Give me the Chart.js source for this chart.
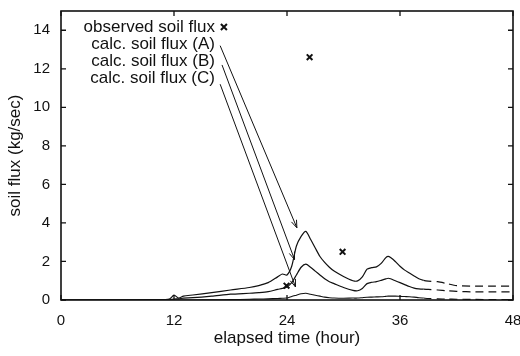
<!DOCTYPE html>
<html>
<head>
<meta charset="utf-8">
<script src="https://cdn.jsdelivr.net/npm/chart.js@4/dist/chart.umd.min.js"></script>
<style>
  html, body { margin: 0; padding: 0; background: #fff; }
  canvas { display: block; }
</style>
</head>
<body>
<canvas id="c" width="520" height="356"></canvas>
<script>
// ---- data ----
const hours = [0, 6, 10, 11.5, 12, 12.5, 13, 14, 16, 18, 20, 21, 22, 23, 23.5, 24, 24.5, 25, 25.5, 26, 26.5, 27, 27.5, 28, 28.5, 29, 30, 31, 31.5, 32, 32.5, 33, 33.5, 34, 34.5, 34.75, 35, 35.5, 36, 36.5, 37, 37.5, 38, 38.5, 39, 40, 41, 42, 44, 46, 48];
const fluxA = [0, 0, 0.02, 0.05, 0.25, 0.1, 0.2, 0.26, 0.38, 0.52, 0.65, 0.75, 0.9, 1.2, 1.35, 1.3, 1.75, 2.8, 3.3, 3.56, 3.15, 2.7, 2.26, 1.95, 1.7, 1.5, 1.22, 1.0, 0.99, 1.2, 1.6, 1.68, 1.72, 1.9, 2.2, 2.26, 2.2, 2.0, 1.75, 1.55, 1.4, 1.25, 1.1, 1.02, 0.98, 0.95, 0.85, 0.75, 0.72, 0.72, 0.72];
const fluxB = [0, 0, 0, 0.02, 0.05, 0.06, 0.1, 0.12, 0.2, 0.3, 0.35, 0.38, 0.43, 0.55, 0.6, 0.68, 0.9, 1.3, 1.7, 1.86, 1.7, 1.5, 1.3, 1.1, 0.95, 0.85, 0.65, 0.5, 0.48, 0.6, 0.85, 0.92, 0.95, 1.02, 1.1, 1.13, 1.1, 1.0, 0.9, 0.8, 0.7, 0.62, 0.58, 0.56, 0.55, 0.52, 0.48, 0.45, 0.42, 0.42, 0.42];
const fluxC = [0, 0, 0, 0, 0, 0, 0, 0, 0.01, 0.02, 0.04, 0.05, 0.06, 0.08, 0.09, 0.1, 0.18, 0.25, 0.32, 0.35, 0.3, 0.25, 0.2, 0.15, 0.12, 0.1, 0.09, 0.1, 0.1, 0.12, 0.14, 0.15, 0.16, 0.17, 0.19, 0.2, 0.2, 0.2, 0.19, 0.18, 0.17, 0.15, 0.12, 0.1, 0.08, 0.06, 0.05, 0.04, 0.03, 0.02, 0.02];
const obsHours = [23.95, 26.4, 29.9];
const obsFlux = [0.74, 12.6, 2.5];
const xTicks = [0, 12, 24, 36, 48];
const yTicks = [0, 2, 4, 6, 8, 10, 12, 14];
const labelTexts = ["observed soil flux", "calc. soil flux (A)", "calc. soil flux (B)", "calc. soil flux (C)"];
// label anchors (right edge) in data units
const labelX = [16.35, 16.35, 16.35, 16.35];
const labelY = [14.17, 13.28, 12.4, 11.5];
const keyMarkX = 17.3;   // the x-mark after "observed soil flux"
// arrows from labels to curves, in data units
const arrowStartX = [16.9, 17.1, 16.9];
const arrowStartY = [13.2, 12.2, 11.2];
const arrowEndX = [25.05, 24.8, 24.9];
const arrowEndY = [3.75, 2.1, 0.68];

const FONT = "'Liberation Sans', Arial, Helvetica, sans-serif";
const INK = '#111';

const toXY = (xs, ys) => xs.map((x, i) => ({ x: x, y: ys[i] }));
const tailDash = ctx => (ctx.p0.parsed.x >= 38.5 ? [8, 5] : undefined);

const frameTicks = {
  id: 'frameTicks',
  afterDatasetsDraw(chart) {
    const { ctx, chartArea: a, scales } = chart;
    ctx.save();
    ctx.strokeStyle = INK;
    ctx.lineWidth = 1.6;
    ctx.strokeRect(a.left, a.top, a.right - a.left, a.bottom - a.top);
    ctx.lineWidth = 1.3;
    const L = 5;
    ctx.beginPath();
    xTicks.forEach(v => {
      const px = scales.x.getPixelForValue(v);
      ctx.moveTo(px, a.bottom); ctx.lineTo(px, a.bottom - L);
      ctx.moveTo(px, a.top); ctx.lineTo(px, a.top + L);
    });
    yTicks.forEach(v => {
      const py = scales.y.getPixelForValue(v);
      ctx.moveTo(a.left, py); ctx.lineTo(a.left + L, py);
      ctx.moveTo(a.right, py); ctx.lineTo(a.right - L, py);
    });
    ctx.stroke();

    // labels
    ctx.fillStyle = INK;
    ctx.font = '17px ' + FONT;
    ctx.textAlign = 'right';
    ctx.textBaseline = 'middle';
    labelTexts.forEach((t, i) => {
      ctx.fillText(t, scales.x.getPixelForValue(labelX[i]), scales.y.getPixelForValue(labelY[i]));
    });
    // key mark (x) for observed
    const kx = scales.x.getPixelForValue(keyMarkX), ky = scales.y.getPixelForValue(labelY[0]);
    ctx.lineWidth = 2;
    ctx.beginPath();
    ctx.moveTo(kx - 3, ky - 3); ctx.lineTo(kx + 3, ky + 3);
    ctx.moveTo(kx + 3, ky - 3); ctx.lineTo(kx - 3, ky + 3);
    ctx.stroke();

    // arrows
    ctx.lineWidth = 1;
    for (let i = 0; i < arrowStartX.length; i++) {
      const x0 = scales.x.getPixelForValue(arrowStartX[i]), y0 = scales.y.getPixelForValue(arrowStartY[i]);
      const x1 = scales.x.getPixelForValue(arrowEndX[i]), y1 = scales.y.getPixelForValue(arrowEndY[i]);
      const ang = Math.atan2(y1 - y0, x1 - x0);
      const h = 8, w = 0.35;
      ctx.beginPath();
      ctx.moveTo(x0, y0); ctx.lineTo(x1, y1);
      ctx.moveTo(x1 - h * Math.cos(ang - w), y1 - h * Math.sin(ang - w));
      ctx.lineTo(x1, y1);
      ctx.lineTo(x1 - h * Math.cos(ang + w), y1 - h * Math.sin(ang + w));
      ctx.stroke();
    }
    ctx.restore();
  }
};

const lineDs = (label, ys, width) => ({
  type: 'line',
  label: label,
  data: toXY(hours, ys),
  borderColor: INK,
  borderWidth: width,
  pointRadius: 0,
  tension: 0.25,
  fill: false,
  segment: { borderDash: tailDash }
});

new Chart(document.getElementById('c'), {
  type: 'scatter',
  data: {
    datasets: [
      lineDs('calc. soil flux (A)', fluxA, 1.2),
      lineDs('calc. soil flux (B)', fluxB, 1.2),
      lineDs('calc. soil flux (C)', fluxC, 1.1),
      {
        type: 'scatter',
        label: 'observed soil flux',
        data: toXY(obsHours, obsFlux),
        pointStyle: 'crossRot',
        pointRadius: 4,
        borderColor: INK,
        borderWidth: 2,
        backgroundColor: INK
      }
    ]
  },
  options: {
    responsive: false,
    animation: false,
    events: [],
    layout: { padding: { top: 11, right: 7, left: 0, bottom: 0 } },
    plugins: { legend: { display: false }, tooltip: { enabled: false } },
    scales: {
      x: {
        type: 'linear', min: 0, max: 48,
        afterBuildTicks: s => { s.ticks = xTicks.map(v => ({ value: v })); },
        afterFit: s => { s.height = 56; s.paddingLeft = 0; s.paddingRight = 0; },
        grid: { display: false, drawTicks: false },
        border: { display: false },
        ticks: { color: INK, font: { family: FONT, size: 15 }, padding: 12, maxRotation: 0, autoSkip: false },
        title: { display: true, text: 'elapsed time (hour)', color: INK, font: { family: FONT, size: 17 }, padding: { top: 0, bottom: 7 } }
      },
      y: {
        type: 'linear', min: 0, max: 15,
        afterBuildTicks: s => { s.ticks = yTicks.map(v => ({ value: v })); },
        afterFit: s => { s.width = 61; s.paddingTop = 0; s.paddingBottom = 0; },
        grid: { display: false, drawTicks: false },
        border: { display: false },
        ticks: { color: INK, font: { family: FONT, size: 15 }, padding: 11, autoSkip: false },
        title: { display: true, text: 'soil flux (kg/sec)', color: INK, font: { family: FONT, size: 17 }, padding: { top: 5, bottom: 0 } }
      }
    }
  },
  plugins: [frameTicks]
});
</script>
</body>
</html>
